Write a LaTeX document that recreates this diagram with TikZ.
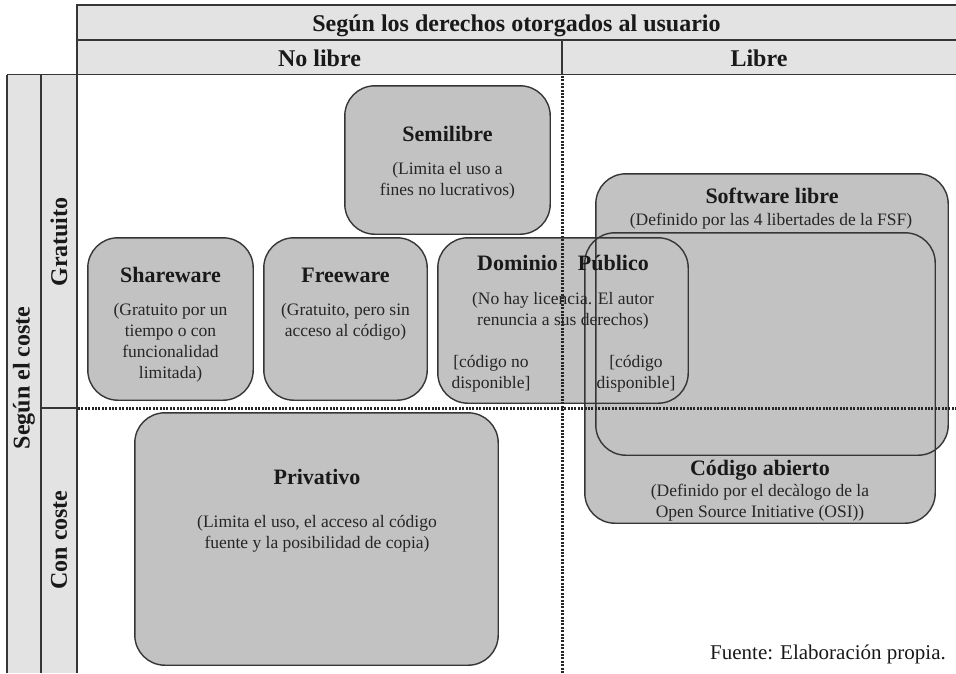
\documentclass[tikz,border=0pt]{standalone}
\usepackage{fontspec}
\setmainfont{Liberation Serif}
\definecolor{boxgray}{HTML}{C2C2C2}
\definecolor{hdrgray}{HTML}{E3E3E3}
\definecolor{linegray}{HTML}{363636}
\newcommand\ttlsize{\fontsize{22}{26}\selectfont\bfseries}
\newcommand\bdysize{\fontsize{17.5}{21}\selectfont}
\newcommand\hdrsize{\fontsize{24}{28}\selectfont\bfseries}
\newcommand\mlines[1]{\begin{tabular}[t]{@{}c@{}}#1\end{tabular}}
\tikzset{
  boxfill/.style={rectangle, fill=boxgray, rounded corners=30pt, inner sep=0pt},
  boxline/.style={draw=linegray, line width=1.4pt, rounded corners=30pt},
  gridline/.style={draw=linegray, line width=1.4pt},
  dotline/.style={draw=black!85, line width=3pt, dash pattern=on 2pt off 1.4pt},
  ttl/.style={anchor=base, inner sep=0pt, font=\ttlsize, text=black!90},
  bdy/.style={anchor=base, inner sep=0pt, font=\bdysize, text=black!85},
  hdr/.style={anchor=base, inner sep=0pt, font=\hdrsize, text=black!90},
  vhdr/.style={anchor=center, inner sep=0pt, font=\hdrsize, text=black!90, rotate=90},
}
\begin{document}
\begin{tikzpicture}[x=1pt, y=-1pt]
\useasboundingbox (0,0) rectangle (956,673);
% header band
\fill[hdrgray] (77,5) rectangle (956,74);
\fill[hdrgray] (7,75) rectangle (77,673);
\coordinate (htr) at (956,5);
\coordinate (htl) at (77,5);
\coordinate (lbot) at (77,673);
\coordinate (ltl) at (7,75);
\coordinate (hbl) at (7,74.5);
\coordinate (hbr) at (956,74.5);
\coordinate (hml) at (77,40);
\coordinate (hmr) at (956,40);
\coordinate (hdt) at (562,40);
\coordinate (hdb) at (562,74);
\coordinate (lbl) at (7,673);
\coordinate (lmt) at (41,75);
\coordinate (lmb) at (41,673);
\coordinate (lsl) at (41,408);
\coordinate (lsr) at (77,408);
\draw[gridline] (htr) -- (htl) -- (lbot);
\draw[gridline] (hbl) -- (hbr);
\draw[gridline] (hml) -- (hmr);
\draw[gridline] (hdt) -- (hdb);
\draw[gridline] (ltl) -- (lbl);
\draw[gridline] (lmt) -- (lmb);
\draw[gridline] (lsl) -- (lsr);
\node[hdr] (hdrtop) at (516.5,31) {Según los derechos otorgados al usuario};
\node[hdr] (nolibre) at (319.5,66) {No libre};
\node[hdr] (libre) at (759,66) {Libre};
\node[vhdr] (coste) at (24,378) {Según el coste};
\node[vhdr] (gratis) at (59,242) {Gratuito};
\node[vhdr] (concoste) at (59,540) {Con coste};
% box fills
\node[boxfill, minimum width=205pt, minimum height=148pt] (semi) at (447.5,160) {};
\node[boxfill, minimum width=165pt, minimum height=162pt] (share) at (170.5,319) {};
\node[boxfill, minimum width=163pt, minimum height=162pt] (free) at (345.5,319) {};
\node[boxfill, minimum width=363pt, minimum height=252pt] (priv) at (316.5,539) {};
\node[boxfill, minimum width=352pt, minimum height=281pt] (swl) at (772,314.5) {};
\node[boxfill, minimum width=350pt, minimum height=290pt] (oss) at (760,378) {};
\node[boxfill, minimum width=250pt, minimum height=165pt] (domin) at (563,320.5) {};
% box borders
\foreach \b in {semi,share,free,priv,swl,oss,domin}
  \draw[boxline] (\b.north west) rectangle (\b.south east);
% dotted grid
\coordinate (vdt) at (562,76);
\coordinate (vdb) at (562,673);
\coordinate (hdl) at (78,408);
\coordinate (hdr) at (956,408);
\draw[dotline] (hdl) -- (hdr);
\draw[dotline] (vdt) -- (vdb);
% texts
\node[ttl] (semit) at (447.5,141) {Semilibre};
\node[bdy] (semib) at (447.5,174) {\mlines{(Limita el uso a\\fines no lucrativos)}};
\node[ttl] (sharet) at (170.5,282) {Shareware};
\node[bdy] (shareb) at (170.5,315) {\mlines{(Gratuito por un\\tiempo o con\\funcionalidad\\limitada)}};
\node[ttl] (freet) at (345.5,282) {Freeware};
\node[bdy] (freeb) at (345.5,315) {\mlines{(Gratuito, pero sin\\acceso al código)}};
\node[ttl] (domint) at (563,270) {Dominio\hspace{20pt}Público};
\node[bdy] (dominb) at (563,304) {\mlines{(No hay licencia. El autor\\renuncia a sus derechos)}};
\node[bdy] (codno) at (491,367) {\mlines{[código no\\disponible]}};
\node[bdy] (codsi) at (636,367) {\mlines{[código\\disponible]}};
\node[ttl] (privt) at (317,484) {Privativo};
\node[bdy] (privb) at (317,527) {\mlines{(Limita el uso, el acceso al código\\fuente y la posibilidad de copia)}};
\node[ttl] (swlt) at (772,203) {Software libre};
\node[bdy] (swlb) at (771,225) {(Definido por las 4 libertades de la FSF)};
\node[ttl] (osst) at (760,475) {Código abierto};
\node[bdy] (ossb) at (760,496) {\mlines{(Definido por el decàlogo de la\\Open Source Initiative (OSI))}};
\node[anchor=base east, inner sep=0pt, font=\fontsize{21}{25}\selectfont, text=black!90] (fuente) at (946,659) {Fuente: Elaboración propia.};
\end{tikzpicture}
\end{document}
